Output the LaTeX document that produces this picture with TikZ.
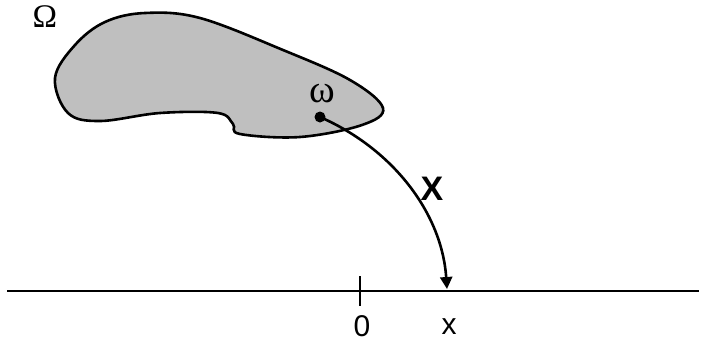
\documentclass[tikz,border=0pt]{standalone}
\usepackage{fontspec}
\setmainfont{Liberation Sans}
\newfontfamily\greekfont{Liberation Serif}
\usetikzlibrary{arrows.meta, positioning}

\begin{document}
\begin{tikzpicture}[x=1pt, y=-1pt,
        region/.style={draw, line width=2.6pt, fill=black!25},
        axis/.style={line width=2.8pt},
        mapping/.style={line width=2.6pt, -{Triangle[length=12pt, width=12pt]}},
        greek/.style={font=\fontsize{33}{35}\selectfont\greekfont, inner sep=0pt},
        label/.style={font=\fontsize{30}{32}\selectfont, inner sep=0pt}
    ]
        \useasboundingbox (0,0) rectangle (705,343);

        % Sample space
        \draw[region] plot[smooth cycle, tension=0.6] coordinates {
            (55,78) (75,45) (105,22) (145,13) (200,18) (283,50) (350,80)
            (383,108) (362,125) (300,137) (240,134) (233,124) (218,113)
            (160,113) (100,121) (68,113)};
        \node[greek] (omega) at (45,17) {Ω};

        % Outcome
        \coordinate (w) at (320,117);
        \fill (w) circle (5.5pt);
        \node[greek, font=\fontsize{39}{41}\selectfont\greekfont] (wlab) at (322,94) {ω};

        % Real line
        \coordinate (left) at (7,291);
        \coordinate (right) at (699,291);
        \draw[axis] (left) -- (right);
        \coordinate (t0) at (360,276);
        \coordinate (t1) at (360,306);
        \draw[axis] (t0) -- (t1);
        \node[label] (zero) at (362,326) {0};
        \node[label] (xlab) at (449,327) {x};
        \coordinate (x) at (447,289);

        % Random variable
        \draw[mapping] (w) .. controls (395,150) and (442,215) .. (x);
        \node[label, font=\fontsize{34}{36}\selectfont\bfseries] (X) at (432,189) {X};
    \end{tikzpicture}
\end{document}
